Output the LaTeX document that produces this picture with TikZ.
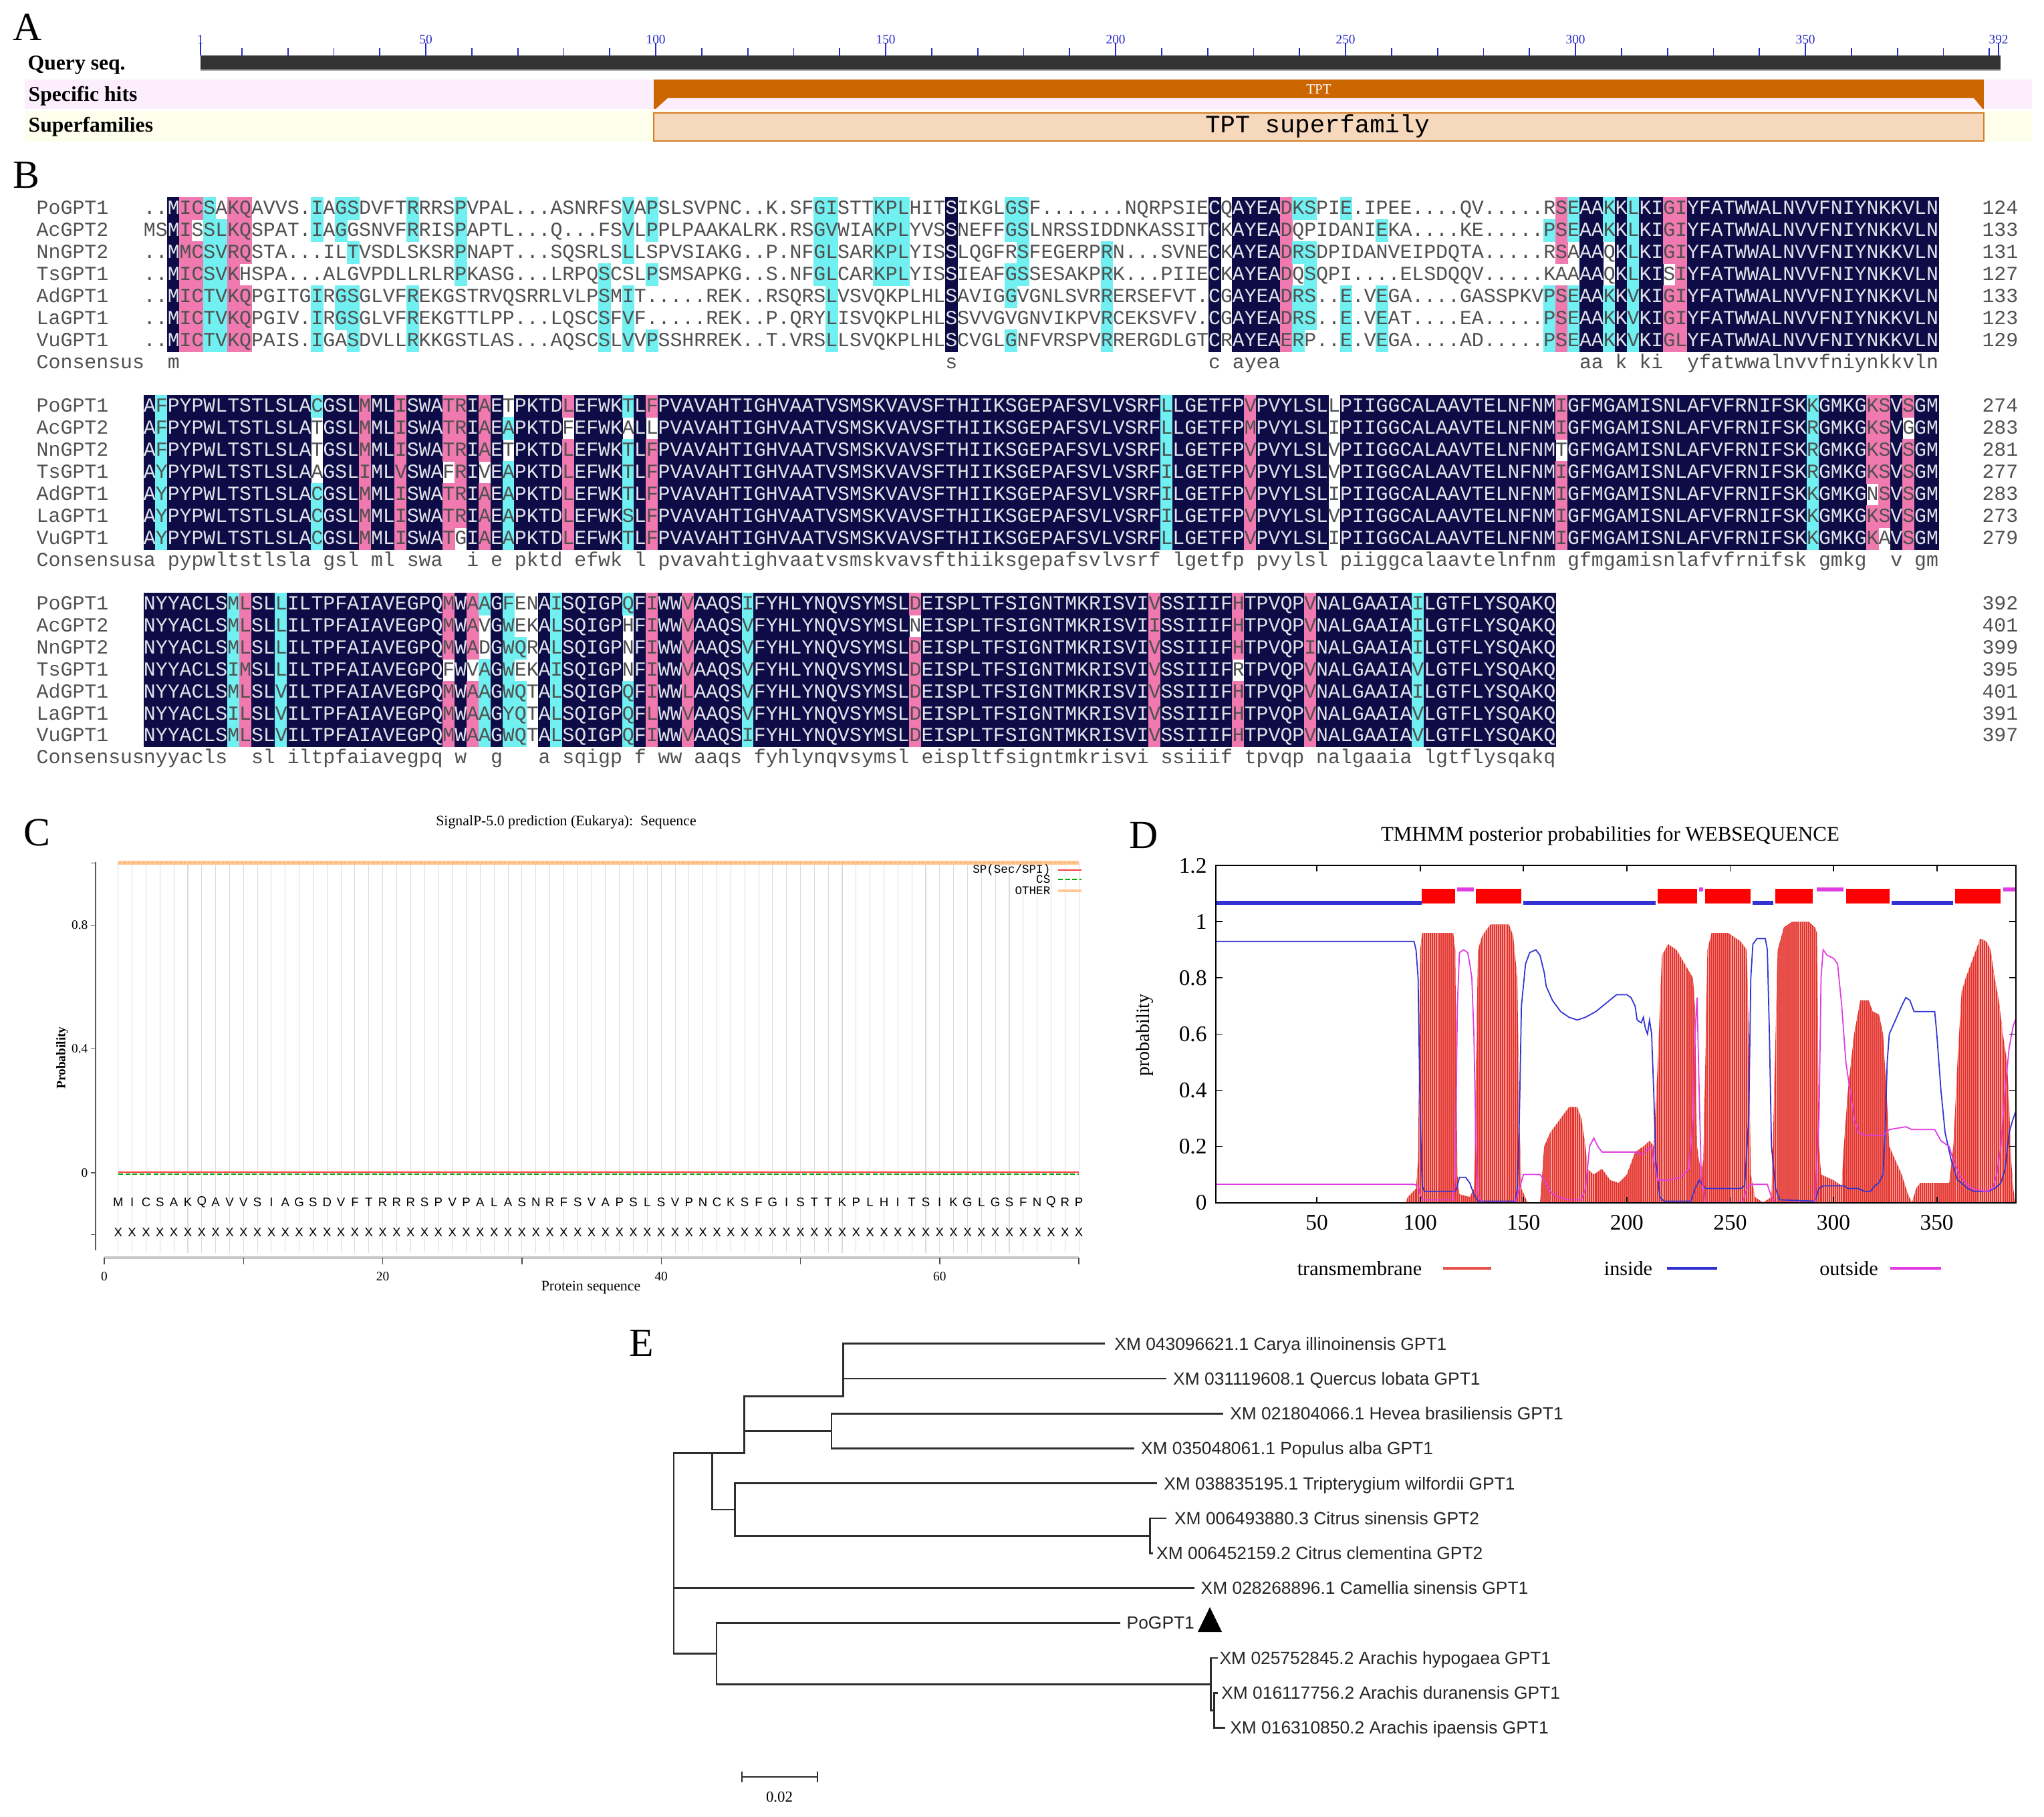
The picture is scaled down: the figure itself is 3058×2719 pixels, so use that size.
\documentclass[tikz,border=0pt]{standalone}
\usepackage{fontspec}
\setmainfont{Liberation Serif}
\newfontfamily\alnfont{Liberation Mono}
\newfontfamily\sansfont{Liberation Sans}
\usetikzlibrary{calc}
\tikzset{>=latex}

\definecolor{navyb}{RGB}{14,12,70}
\definecolor{pinkb}{RGB}{240,122,176}
\definecolor{cyanb}{RGB}{112,240,240}
\definecolor{resgray}{RGB}{80,80,80}
\definecolor{hitpink}{RGB}{253,238,253}
\definecolor{supyel}{RGB}{254,254,236}
\definecolor{tptor}{RGB}{204,102,0}
\definecolor{suppeach}{RGB}{246,216,188}
\definecolor{rulblue}{RGB}{40,40,200}
\definecolor{tmred}{RGB}{228,50,44}
\definecolor{inblue}{RGB}{50,50,210}
\definecolor{outmag}{RGB}{225,60,225}
\definecolor{othor}{RGB}{255,200,150}
\definecolor{treeg}{RGB}{45,45,45}

\tikzset{
  navycell/.style={fill=navyb},
  pinkcell/.style={fill=pinkb},
  cyancell/.style={fill=cyanb},
  resdark/.style={anchor=base, inner sep=0pt, text=resgray, font=\alnfont\fontsize{8.5}{10}\selectfont},
  reslight/.style={resdark, text=white!88!navyb},
  resname/.style={resdark, anchor=base west},
  resnum/.style={resdark, anchor=base east},
  plab/.style={inner sep=0pt, font=\fontsize{17}{20}\selectfont},
  alab/.style={anchor=west, inner sep=0pt, font=\bfseries\fontsize{9}{10}\selectfont},
  rulnum/.style={inner sep=0pt, text=rulblue, font=\fontsize{5.5}{6}\selectfont},
  ctitle/.style={inner sep=0pt, font=\fontsize{6.2}{7}\selectfont},
  ctick/.style={inner sep=0pt, font=\fontsize{5.5}{6}\selectfont},
  cseq/.style={inner sep=0pt, font=\sansfont\fontsize{5.3}{6}\selectfont},
  cleg/.style={inner sep=0pt, font=\alnfont\fontsize{5}{6}\selectfont},
  dtick/.style={inner sep=0pt, font=\fontsize{9.5}{11}\selectfont},
  dleg/.style={inner sep=0pt, font=\fontsize{8.6}{10}\selectfont},
  branch/.style={draw=treeg, line width=0.8pt},
  tiplab/.style={anchor=base west, inner sep=0pt, text=black!85, font=\sansfont\fontsize{7.5}{9}\selectfont},
}
\newcommand\alncell[3]{\fill[#3] ({#1-0.5},{#2-0.5}) rectangle ({#1+18.4},{#2+33.4});}
\newcommand\alnres[4]{\node[#4] at (#1,#2) {#3};}
% transmembrane profile of panel D (residue, probability)
\newcommand\tmshape{plot coordinates {(93,0) (94,0.02) (98,0.05) (99,0.15) (100,0.9) (101,0.96) (116,0.96) (117,0.9) (118,0.1) (119,0.03) (124,0.02) (126,0.05) (127,0.5) (128,0.9) (130,0.95) (134,0.99) (143,0.99) (145,0.95) (147,0.8) (148,0.3) (149,0.05) (152,0) (158,0) (159,0.1) (160,0.2) (163,0.25) (168,0.3) (172,0.34) (176,0.34) (178,0.3) (180,0.2) (181,0.12) (184,0.1) (188,0.12) (192,0.08) (196,0.07) (200,0.1) (204,0.18) (208,0.2) (211,0.22) (213,0.2) (215,0.5) (217,0.88) (220,0.92) (224,0.9) (228,0.85) (232,0.8) (233,0.7) (234,0.2) (236,0.1) (237,0.15) (238,0.5) (239,0.9) (241,0.96) (249,0.96) (255,0.93) (258,0.9) (259,0.6) (260,0.1) (262,0.02) (266,0) (270,0.02) (271,0.3) (273,0.9) (276,0.98) (280,1.0) (288,1.0) (291,0.98) (292,0.96) (293,0.2) (294,0.1) (300,0.08) (304,0.06) (305,0.2) (307,0.4) (310,0.6) (313,0.72) (317,0.72) (319,0.68) (322,0.67) (324,0.6) (326,0.35) (327,0.2) (330,0.15) (333,0.1) (336,0.03) (338,0) (340,0.05) (342,0.07) (356,0.07) (358,0.2) (360,0.5) (362,0.75) (364,0.8) (368,0.88) (371,0.94) (374,0.93) (376,0.9) (378,0.8) (380,0.72) (382,0.6) (384,0.5) (385,0.35) (386,0.15) (387,0.05) (388,0)}}

% alignment block: colour a column by how many rows share a residue
\ExplSyntaxOn
\seq_new:N \l__aln_rows_seq
\seq_new:N \l__aln_col_seq
\int_new:N \l__aln_cnt_int
\int_new:N \l__aln_max_int
\int_new:N \l__aln_lev_int
\int_new:N \l__aln_r_int
\str_new:N \l__aln_m_str
\str_new:N \l__aln_mg_str
\bool_new:N \l__aln_on_bool
\cs_new:Npn \__aln_grp:n #1
  {
    \str_case:nnF {#1}
      {
        {I}{h} {L}{h} {V}{h} {M}{h}
        {F}{a} {Y}{a} {W}{a}
        {K}{k} {R}{k}
        {S}{s} {T}{s}
        {D}{d} {E}{d}
      }
      {#1}
  }
\NewDocumentCommand \alnblock { m m m }
  {
    \seq_set_from_clist:Nn \l__aln_rows_seq {#3}
    \int_step_inline:nn {#2}
      {
        \seq_clear:N \l__aln_col_seq
        \seq_map_inline:Nn \l__aln_rows_seq
          { \seq_put_right:Nx \l__aln_col_seq { \str_item:nn {####1} {##1} } }
        \int_zero:N \l__aln_max_int
        \str_clear:N \l__aln_m_str
        \seq_map_inline:Nn \l__aln_col_seq
          {
            \str_if_eq:nnF {####1} {.}
              {
                \int_zero:N \l__aln_cnt_int
                \seq_map_inline:Nn \l__aln_col_seq
                  { \str_if_eq:nnT {####1} {########1} { \int_incr:N \l__aln_cnt_int } }
                \int_compare:nNnT \l__aln_cnt_int > \l__aln_max_int
                  {
                    \int_set_eq:NN \l__aln_max_int \l__aln_cnt_int
                    \str_set:Nn \l__aln_m_str {####1}
                  }
              }
          }
        \str_set:Nx \l__aln_mg_str { \exp_args:NV \__aln_grp:n \l__aln_m_str }
        \int_set:Nn \l__aln_lev_int
          {
            \int_compare:nNnTF \l__aln_max_int = 7 { 3 }
              {
                \int_compare:nNnTF \l__aln_max_int = 6 { 2 }
                  { \int_compare:nNnTF \l__aln_max_int > 3 { 1 } { 0 } }
              }
          }
        \int_zero:N \l__aln_r_int
        \seq_map_inline:Nn \l__aln_col_seq
          {
            \int_incr:N \l__aln_r_int
            \bool_set_false:N \l__aln_on_bool
            \int_compare:nNnT \l__aln_lev_int > 0
              {
                \str_if_eq:nnF {####1} {.}
                  {
                    \str_if_eq:eeT { \__aln_grp:n {####1} } { \l__aln_mg_str }
                      { \bool_set_true:N \l__aln_on_bool }
                  }
              }
            \bool_if:NT \l__aln_on_bool
              {
                \use:x
                  {
                    \exp_not:N \alncell
                      { \fp_eval:n { 215 + 17.9 * (##1 - 1) } }
                      { \fp_eval:n { #1 + 32.9 * (\l__aln_r_int - 1) } }
                      { \int_case:nn { \l__aln_lev_int } { {1}{cyancell} {2}{pinkcell} {3}{navycell} } }
                  }
              }
            \use:x
              {
                \exp_not:N \alnres
                  { \fp_eval:n { 215 + 17.9 * (##1 - 1) + 8.95 } }
                  { \fp_eval:n { #1 + 32.9 * (\l__aln_r_int - 1) + 25 } }
                  { ####1 }
                  { \bool_if:NTF \l__aln_on_bool { \int_compare:nNnTF \l__aln_lev_int = 3 {reslight} {resdark} } {resdark} }
              }
          }
        \int_compare:nNnT \l__aln_lev_int = 3
          {
            \use:x
              {
                \exp_not:N \alnres
                  { \fp_eval:n { 215 + 17.9 * (##1 - 1) + 8.95 } }
                  { \fp_eval:n { #1 + 32.9 * 7 + 25 } }
                  { \exp_not:N \lowercase { \l__aln_m_str } }
                  { resdark }
              }
          }
      }
  }
\ExplSyntaxOff

\begin{document}
\begin{tikzpicture}[x=0.01cm,y=-0.01cm]
\useasboundingbox (0,0) rectangle (3058,2719);
\fill[white] (0,0) rectangle (3058,2719);

% ---------- A: conserved domain ----------
\node[plab] (labA) at (41,41) {A};
\fill[hitpink] (37,119) rectangle (3040,163);
\fill[supyel] (37,166) rectangle (3040,212);
\fill[black!80] (300,83) rectangle (2993,104);
\draw[gray!60, line width=0.6pt] (300,105) -- (2993,105);
\foreach \n in {10,20,...,390}
  \draw[rulblue, line width=0.5pt] ({300+6.88*(\n-1)},72) -- ({300+6.88*(\n-1)},83);
\foreach \n in {1,50,100,150,200,250,300,350,392} {
  \draw[rulblue, line width=0.5pt] ({300+6.88*(\n-1)},64) -- ({300+6.88*(\n-1)},83);
  \node[rulnum] (r\n) at ({300+6.88*(\n-1)},59) {\n};
}
\node[alab] (lQuery) at (41,97) {Query seq.};
\node[alab] (lHits) at (42,144) {Specific hits};
\node[alab] (lSuper) at (42,190) {Superfamilies};
\fill[tptor] (978,119) rectangle (2968,163);
\fill[hitpink] (980,164) -- (999,147) -- (2953,147) -- (2967,164) -- cycle;
\node[inner sep=0pt, text=white, font=\fontsize{6}{7}\selectfont] (tTPT) at (1973,134) {TPT};
\draw[draw=tptor!85, fill=suppeach, line width=0.8pt] (978,169) rectangle (2968,211);
\node[inner sep=0pt, font=\alnfont\fontsize{10.6}{12}\selectfont] (tSuper) at (1971,189) {TPT superfamily};

% ---------- B: alignment ----------
\node[plab] (labB) at (39,262) {B};
\alnblock{296}{150}{%
..MICSAKQAVVS.IAGSDVFTRRRSPVPAL...ASNRFSVAPSLSVPNC..K.SFGISTTKPLHITSIKGLGSF.......NQRPSIECQAYEADKSPIE.IPEE....QV.....RSEAAKKLKIGIYFATWWALNVVFNIYNKKVLN,
MSMISSLKQSPAT.IAGGSNVFRRISPAPTL...Q...FSVLPPLPAAKALRK.RSGVWIAKPLYVSSNEFFGSLNRSSIDDNKASSITCKAYEADQPIDANIEKA....KE.....PSEAAKKLKIGIYFATWWALNVVFNIYNKKVLN,
..MMCSVRQSTA...ILTVSDLSKSRPNAPT...SQSRLSLLSPVSIAKG..P.NFGLSARKPLYISSLQGFRSFEGERPRN...SVNECKAYEADRSDPIDANVEIPDQTA.....RSAAAQKLKIGIYFATWWALNVVFNIYNKKVLN,
..MICSVKHSPA...ALGVPDLLRLRPKASG...LRPQSCSLPSMSAPKG..S.NFGLCARKPLYISSIEAFGSSESAKPRK...PIIECKAYEADQSQPI....ELSDQQV.....KAAAAQKLKISIYFATWWALNVVFNIYNKKVLN,
..MICTVKQPGITGIRGSGLVFREKGSTRVQSRRLVLPSMIT.....REK..RSQRSLVSVQKPLHLSAVIGGVGNLSVRRERSEFVT.CGAYEADRS..E.VEGA....GASSPKVPSEAAKKVKIGIYFATWWALNVVFNIYNKKVLN,
..MICTVKQPGIV.IRGSGLVFREKGTTLPP...LQSCSFVF.....REK..P.QRYLISVQKPLHLSSVVGVGNVIKPVRCEKSVFV.CGAYEADRS..E.VEAT....EA.....PSEAAKKVKIGIYFATWWALNVVFNIYNKKVLN,
..MICTVKQPAIS.IGASDVLLRKKGSTLAS...AQSCSLVVPSSHRREK..T.VRSLLSVQKPLHLSCVGLGNFVRSPVRRERGDLGTCRAYEAERP..E.VEGA....AD.....PSEAAKKVKIGLYFATWWALNVVFNIYNKKVLN}
\alnblock{592}{150}{%
AFPYPWLTSTLSLACGSLMMLISWATRIAETPKTDLEFWKTLFPVAVAHTIGHVAATVSMSKVAVSFTHIIKSGEPAFSVLVSRFLLGETFPVPVYLSLLPIIGGCALAAVTELNFNMIGFMGAMISNLAFVFRNIFSKKGMKGKSVSGM,
AFPYPWLTSTLSLATGSLMMLISWATRIAEAPKTDFEFWKALLPVAVAHTIGHVAATVSMSKVAVSFTHIIKSGEPAFSVLVSRFLLGETFPMPVYLSLIPIIGGCALAAVTELNFNMIGFMGAMISNLAFVFRNIFSKRGMKGKSVGGM,
AFPYPWLTSTLSLATGSLMMLISWATRIAETPKTDLEFWKTLFPVAVAHTIGHVAATVSMSKVAVSFTHIIKSGEPAFSVLVSRFLLGETFPVPVYLSLVPIIGGCALAAVTELNFNMTGFMGAMISNLAFVFRNIFSKRGMKGKSVSGM,
AYPYPWLTSTLSLAAGSLIMLVSWAFRIVEAPKTDLEFWKTLFPVAVAHTIGHVAATVSMSKVAVSFTHIIKSGEPAFSVLVSRFILGETFPVPVYLSLVPIIGGCALAAVTELNFNMIGFMGAMISNLAFVFRNIFSKRGMKGKSVSGM,
AYPYPWLTSTLSLACGSLMMLISWATRIAEAPKTDLEFWKTLFPVAVAHTIGHVAATVSMSKVAVSFTHIIKSGEPAFSVLVSRFILGETFPVPVYLSLIPIIGGCALAAVTELNFNMIGFMGAMISNLAFVFRNIFSKKGMKGNSVSGM,
AYPYPWLTSTLSLACGSLMMLISWATRIAEAPKTDLEFWKSLFPVAVAHTIGHVAATVSMSKVAVSFTHIIKSGEPAFSVLVSRFILGETFPVPVYLSLVPIIGGCALAAVTELNFNMIGFMGAMISNLAFVFRNIFSKKGMKGKSVSGM,
AYPYPWLTSTLSLACGSLMMLISWATGIAEAPKTDLEFWKTLFPVAVAHTIGHVAATVSMSKVAVSFTHIIKSGEPAFSVLVSRFLLGETFPVPVYLSLIPIIGGCALAAVTELNFNMIGFMGAMISNLAFVFRNIFSKKGMKGKAVSGM}
\alnblock{887.5}{118}{%
NYYACLSMLSLLILTPFAIAVEGPQMWAAGFENAISQIGPQFIWWVAAQSIFYHLYNQVSYMSLDEISPLTFSIGNTMKRISVIVSSIIIFHTPVQPVNALGAAIAILGTFLYSQAKQ,
NYYACLSMLSLLILTPFAIAVEGPQMWAVGWEKALSQIGPHFIWWVAAQSVFYHLYNQVSYMSLNEISPLTFSIGNTMKRISVIISSIIIFHTPVQPVNALGAAIAILGTFLYSQAKQ,
NYYACLSMLSLLILTPFAIAVEGPQMWADGWQRALSQIGPNFIWWVAAQSVFYHLYNQVSYMSLDEISPLTFSIGNTMKRISVIVSSIIIFHTPVQPINALGAAIAILGTFLYSQAKQ,
NYYACLSIMSLLILTPFAIAVEGPQFWVAGWEKAISQIGPNFIWWVAAQSVFYHLYNQVSYMSLDEISPLTFSIGNTMKRISVIVSSIIIFRTPVQPVNALGAAIAVLGTFLYSQAKQ,
NYYACLSMLSLVILTPFAIAVEGPQMWAAGWQTALSQIGPQFIWWLAAQSVFYHLYNQVSYMSLDEISPLTFSIGNTMKRISVIVSSIIIFHTPVQPVNALGAAIAILGTFLYSQAKQ,
NYYACLSILSLVILTPFAIAVEGPQMWAAGYQTALSQIGPQFLWWVAAQSVFYHLYNQVSYMSLDEISPLTFSIGNTMKRISVIVSSIIIFHTPVQPVNALGAAIAVLGTFLYSQAKQ,
NYYACLSMLSLVILTPFAIAVEGPQMWAAGWQTALSQIGPQFIWWVAAQSIFYHLYNQVSYMSLDEISPLTFSIGNTMKRISVIVSSIIIFHTPVQPVNALGAAIAVLGTFLYSQAKQ}
\foreach \nm [count=\i] in {PoGPT1,AcGPT2,NnGPT2,TsGPT1,AdGPT1,LaGPT1,VuGPT1}
  \foreach \tp in {296,592,887.5}
    \node[resname] at (54,{\tp+32.9*(\i-1)+25}) {\nm};
\foreach \tp in {296,592,887.5}
  \node[resname] at (54,{\tp+32.9*7+25}) {Consensus};
\foreach \tp/\a/\b/\c/\d/\e/\f/\g in {296/124/133/131/127/133/123/129,
    592/274/283/281/277/283/273/279, 887.5/392/401/399/395/401/391/397}
  \foreach \v [count=\i] in {\a,\b,\c,\d,\e,\f,\g}
    \node[resnum] at (3020,{\tp+32.9*(\i-1)+25}) {\v};

% ---------- C: SignalP ----------
\node[plab] (labC) at (55,1246) {C};
\node[ctitle] (ttlC) at (847,1230) {SignalP-5.0 prediction (Eukarya):\ \ Sequence};
\foreach \n in {1,...,70}
  \draw[gray!28, line width=0.3pt] ({156+20.83*\n},1291) -- ({156+20.83*\n},1875);
\draw[othor, line width=1.6pt] (177,1291) -- (1614,1291);
\draw[orange!60, line width=0.4pt, dash pattern=on 1pt off 1pt] (177,1291) -- (1614,1291);
\draw[red!75, line width=0.7pt] (177,1754) -- (1614,1754);
\draw[green!65!black, line width=0.5pt, dash pattern=on 2pt off 1pt] (177,1757) -- (1614,1757);
\draw[gray!70!black, line width=0.4pt] (143,1290) -- (143,1871);
\foreach \p/\lab in {1/,0.8/0.8,0.4/0.4,0/0,-0.2/} {
  \draw[gray!70!black, line width=0.4pt] (143,{1755-463.5*\p}) -- (136,{1755-463.5*\p});
  \node[ctick, anchor=east] at (132,{1755-463.5*\p}) {\lab};
}
\draw[gray!45, line width=1.3pt] (156,1882) -- (1614,1882);
\foreach \k in {0,...,7}
  \draw[gray!60!black, line width=0.4pt] ({156+208.3*\k},1882) -- ({156+208.3*\k},1892);
\foreach \k/\lab in {0/0,2/20,4/40,6/60}
  \node[ctick] at ({156+208.3*\k},1910) {\lab};
\node[ctitle] (xlabC) at (884,1927) {Protein sequence};
\node[ctick, rotate=90, font=\bfseries\fontsize{5.5}{6}\selectfont] (ylabC) at (93,1583) {Probability};
\foreach \ch [count=\i] in {M,I,C,S,A,K,Q,A,V,V,S,I,A,G,S,D,V,F,T,R,R,R,S,P,V,P,A,L,A,S,N,R,F,S,V,A,P,S,L,S,V,P,N,C,K,S,F,G,I,S,T,T,K,P,L,H,I,T,S,I,K,G,L,G,S,F,N,Q,R,P}
  \node[cseq] (s\i) at ({156+20.83*\i},1799) {\ch};
\foreach \i in {1,...,70}
  \node[cseq] (x\i) at ({156+20.83*\i},1844) {X};
\node[cleg, anchor=east] (lgSP) at (1572,1302) {SP(Sec/SPI)};
\draw[red!75, line width=0.8pt] (1583,1302) -- (1618,1302);
\node[cleg, anchor=east] (lgCS) at (1572,1316) {CS};
\draw[green!65!black, line width=0.8pt, dash pattern=on 2pt off 1pt] (1583,1316) -- (1618,1316);
\node[cleg, anchor=east] (lgOT) at (1572,1333) {OTHER};
\draw[othor, line width=1.4pt] (1583,1333) -- (1618,1333);

% ---------- D: TMHMM ----------
\node[plab] (labD) at (1711,1250) {D};
\node[dleg, font=\fontsize{8.8}{10}\selectfont] (ttlD) at (2409,1251) {TMHMM posterior probabilities for WEBSEQUENCE};
\begin{scope}[shift={(1815.5,1799.6)}, x=0.0309cm, y=4.201cm]
  \begin{scope}
    \clip (1.13,0) rectangle (388.2,1.2);
    \fill[tmred] \tmshape -- cycle;
    \begin{scope}
      \clip \tmshape -- cycle;
      \foreach \n in {93,...,388}
        \draw[white!55!tmred, line width=0.3pt] (\n+0.5,0) -- (\n+0.5,1.01);
    \end{scope}
    \draw[inblue, line width=0.5pt] plot coordinates {(1,0.93) (97,0.93) (98,0.9) (99,0.8) (100,0.3) (101,0.06) (102,0.04) (117,0.04) (118,0.06) (119,0.09) (122,0.09) (124,0.07) (126,0.03) (128,0.005) (146,0.005) (147,0.05) (148,0.3) (149,0.7) (151,0.85) (153,0.89) (156,0.9) (158,0.88) (160,0.82) (161,0.77) (164,0.72) (168,0.68) (172,0.66) (176,0.65) (180,0.66) (185,0.68) (190,0.71) (195,0.74) (200,0.74) (202,0.73) (204,0.7) (205,0.65) (207,0.64) (208,0.66) (209,0.62) (210,0.6) (211,0.65) (212,0.6) (213,0.4) (214,0.15) (216,0.02) (218,0.005) (231,0.005) (233,0.05) (235,0.08) (236,0.07) (238,0.05) (255,0.05) (257,0.06) (259,0.3) (260,0.8) (261,0.92) (263,0.94) (267,0.94) (268,0.9) (269,0.6) (270,0.2) (272,0.05) (274,0.01) (291,0.005) (293,0.05) (295,0.06) (305,0.06) (307,0.05) (312,0.05) (315,0.04) (318,0.04) (320,0.06) (322,0.07) (324,0.1) (325,0.25) (326,0.5) (327,0.6) (330,0.65) (333,0.7) (335,0.73) (337,0.72) (339,0.68) (349,0.68) (350,0.6) (352,0.4) (354,0.25) (357,0.15) (360,0.08) (362,0.07) (365,0.05) (368,0.04) (375,0.04) (378,0.05) (381,0.07) (383,0.12) (385,0.25) (387,0.3) (389,0.34)};
    \draw[outmag, line width=0.5pt] plot coordinates {(1,0.065) (97,0.065) (99,0.06) (100,0.03) (101,0.01) (116,0.01) (117,0.1) (118,0.7) (119,0.89) (121,0.9) (123,0.89) (124,0.85) (125,0.8) (126,0.6) (127,0.2) (128,0.03) (130,0.0) (146,0.0) (148,0.05) (150,0.1) (158,0.1) (160,0.08) (163,0.04) (166,0.02) (172,0.01) (178,0.01) (180,0.05) (182,0.2) (184,0.23) (186,0.2) (188,0.18) (205,0.18) (207,0.17) (210,0.19) (212,0.2) (213,0.15) (215,0.08) (220,0.08) (226,0.09) (230,0.12) (232,0.3) (233,0.6) (234,0.73) (235,0.4) (236,0.1) (238,0.0) (256,0.0) (258,0.05) (260,0.065) (268,0.065) (270,0.02) (272,0.0) (291,0.0) (293,0.3) (294,0.8) (295,0.9) (297,0.88) (300,0.87) (302,0.85) (304,0.7) (306,0.5) (308,0.4) (310,0.3) (312,0.25) (315,0.24) (324,0.24) (327,0.26) (335,0.27) (338,0.26) (349,0.26) (352,0.22) (356,0.2) (358,0.15) (361,0.1) (364,0.07) (367,0.05) (374,0.04) (377,0.05) (379,0.1) (381,0.2) (383,0.4) (385,0.55) (387,0.63) (389,0.67)};
    % topology line on top
    \foreach \a/\b in {1.13/100.7,150/214,261/271,328/358}
      \draw[inblue, line width=1.8pt] (\a,1.068) -- (\b,1.068);
    \foreach \a/\b in {118/126,235/237,292/305,382/389}
      \draw[outmag, line width=1.5pt] (\a,1.115) -- (\b,1.115);
    \foreach \a/\b in {100.7/117,127/149,215/234,238/260,272/290,306/327,359/381}
      \fill[red] (\a,1.064) rectangle (\b,1.118);
  \end{scope}
  \draw[line width=0.6pt] (1.13,0) rectangle (388.2,1.2);
  \foreach \p/\lab in {0/0,0.2/0.2,0.4/0.4,0.6/0.6,0.8/0.8,1/1,1.2/1.2} {
    \draw[line width=0.5pt] (1.13,\p) -- (4.2,\p);
    \draw[line width=0.5pt] (388.2,\p) -- (385.1,\p);
    \node[dtick, anchor=east] at (-3,\p) {\lab};
  }
  \foreach \n in {50,100,...,350} {
    \draw[line width=0.5pt] (\n,0) -- (\n,0.02);
    \draw[line width=0.5pt] (\n,1.2) -- (\n,1.18);
    \node[dtick] at (\n,-0.072) {\n};
  }
\end{scope}
\node[dleg, rotate=90, font=\fontsize{8}{9}\selectfont] (ylabD) at (1713,1549) {probability};
\node[dleg] (lgTM) at (2034,1898) {transmembrane};
\draw[tmred!85, line width=1pt] (2159,1898) -- (2231,1898);
\node[dleg] (lgIn) at (2436,1898) {inside};
\draw[inblue, line width=1pt] (2494,1898) -- (2569,1898);
\node[dleg] (lgOut) at (2766,1898) {outside};
\draw[outmag, line width=1pt] (2828,1898) -- (2904,1898);

% ---------- E: phylogenetic tree ----------
\node[plab] (labE) at (960,2010) {E};
\coordinate (nR) at (1008,2376.5);
\coordinate (nA) at (1065.6,2174.1);
\coordinate (nB) at (1113.7,2089.2);
\coordinate (nC) at (1261.6,2036.9);
\coordinate (nD) at (1244,2141.4);
\coordinate (nF) at (1099.8,2259.0);
\coordinate (nG) at (1720.3,2298.1);
\coordinate (nH) at (1072,2474.4);
\coordinate (nI) at (1811.8,2520.1);
\coordinate (nJ) at (1816.5,2559.3);
\coordinate (cCar) at (1652.8,2010.8);
\coordinate (cQue) at (1745.3,2063.0);
\coordinate (cHev) at (1830,2115.3);
\coordinate (cPop) at (1697,2167.5);
\coordinate (cTri) at (1731.4,2219.8);
\coordinate (cCsi) at (1745,2272.0);
\coordinate (cCcl) at (1725,2324.2);
\coordinate (cCam) at (1787,2376.5);
\coordinate (cPo) at (1676,2428.7);
\coordinate (cHyp) at (1822,2480.9);
\coordinate (cDur) at (1822,2533.2);
\coordinate (cIpa) at (1833,2585.4);
\draw[branch] (nA) -| (nR) |- (nH);
\draw[branch] (nR) -- (cCam);
\draw[branch] (nB) |- (nA) |- (nF);
\draw[branch] (nC) |- (nB) |- (nD);
\draw[branch] (cCar) -| (nC) |- (cQue);
\draw[branch] (cHev) -| (nD) |- (cPop);
\draw[branch] (cTri) -| (nF) |- (nG);
\draw[branch] (cCsi) -| (nG) |- (cCcl);
\draw[branch] (cPo) -| (nH) |- (nI);
\draw[branch] (cHyp) -| (nI) |- (nJ);
\draw[branch] (cDur) -| (nJ) |- (cIpa);
\node[tiplab] (lCar) at (1666.7,2020) {XM 043096621.1 Carya illinoinensis GPT1};
\node[tiplab] (lQue) at (1754.5,2072.2) {XM 031119608.1 Quercus lobata GPT1};
\node[tiplab] (lHev) at (1839.6,2124.5) {XM 021804066.1 Hevea brasiliensis GPT1};
\node[tiplab] (lPop) at (1706.4,2176.7) {XM 035048061.1 Populus alba GPT1};
\node[tiplab] (lTri) at (1740.6,2229) {XM 038835195.1 Tripterygium wilfordii GPT1};
\node[tiplab] (lCsi) at (1756.4,2281.2) {XM 006493880.3 Citrus sinensis GPT2};
\node[tiplab] (lCcl) at (1729.5,2333.4) {XM 006452159.2 Citrus clementina GPT2};
\node[tiplab] (lCam) at (1796,2385.7) {XM 028268896.1 Camellia sinensis GPT1};
\node[tiplab] (lPo) at (1685,2437.9) {PoGPT1};
\node[tiplab] (lHyp) at (1823.9,2490.1) {XM 025752845.2 Arachis hypogaea GPT1};
\node[tiplab] (lDur) at (1826.6,2542.4) {XM 016117756.2 Arachis duranensis GPT1};
\node[tiplab] (lIpa) at (1839.6,2594.6) {XM 016310850.2 Arachis ipaensis GPT1};
\fill[black] (1792,2442) -- (1828,2442) -- (1810,2405) -- cycle;
\draw[branch] (1110,2659) -- (1223,2659);
\draw[branch] (1110,2651) -- (1110,2667);
\draw[branch] (1223,2651) -- (1223,2667);
\node[inner sep=0pt, font=\fontsize{6.5}{8}\selectfont] (scl) at (1166,2689) {0.02};
\end{tikzpicture}
\end{document}
